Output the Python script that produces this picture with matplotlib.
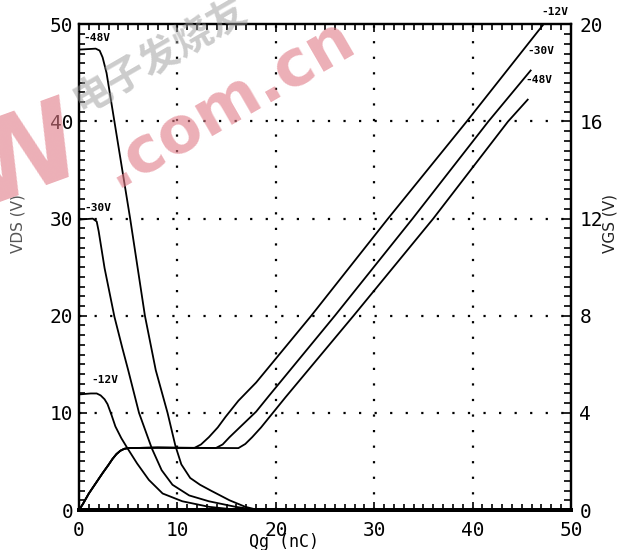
import matplotlib.pyplot as plt
from matplotlib.ticker import MultipleLocator

# VDS curves (left axis), one per supply voltage
qg_vds_12 = [0, 1.2, 1.8, 2.2, 2.6, 2.9, 3.3, 3.7, 4.3, 4.9, 5.9, 7.1, 8.5, 10.5, 13.2, 15.6, 16.5, 50]
vds_12 = [11.9, 12.0, 12.0, 11.8, 11.4, 10.9, 9.8, 8.6, 7.4, 6.4, 4.8, 3.1, 1.7, 0.9, 0.33, 0.07, 0.0, 0.0]

qg_vds_30 = [0, 1.4, 1.8, 2.0, 2.6, 3.6, 4.4, 5.0, 6.1, 7.4, 8.4, 9.5, 11.2, 13.2, 15.9, 17.6, 18.5, 50]
vds_30 = [29.9, 30.0, 29.7, 28.7, 24.9, 19.9, 16.7, 14.4, 10.0, 6.35, 4.1, 2.6, 1.5, 0.9, 0.33, 0.08, 0.0, 0.0]

qg_vds_48 = [0, 1.7, 2.1, 2.4, 2.8, 3.6, 5.2, 6.7, 7.8, 9.0, 9.8, 10.4, 11.3, 12.3, 13.4, 15.3, 16.9, 18.0, 50]
vds_48 = [47.4, 47.5, 47.3, 46.6, 45.0, 40.0, 30.0, 20.0, 14.4, 10.0, 6.6, 4.7, 3.3, 2.6, 2.0, 1.0, 0.33, 0.05, 0.0]

# VGS curves (right axis)
qg_vgs_12 = [0, 0.4, 1.0, 1.7, 2.4, 3.0, 3.4, 3.8, 4.2, 4.6, 5.0, 8.0, 11.7, 12.4, 13.2, 14.1, 14.9, 16.2, 18.0, 23.6, 31.4, 39.4, 47.2]
vgs_12 = [0, 0.25, 0.68, 1.1, 1.52, 1.86, 2.1, 2.3, 2.44, 2.52, 2.55, 2.57, 2.55, 2.7, 3.0, 3.4, 3.84, 4.5, 5.25, 8.0, 12.0, 16.0, 20.0]

qg_vgs_30 = [0, 0.4, 1.0, 1.7, 2.4, 3.0, 3.4, 3.8, 4.2, 4.6, 5.0, 8.0, 13.9, 14.6, 15.3, 16.2, 17.1, 18.0, 19.3, 26.0, 33.9, 41.6, 45.9]
vgs_30 = [0, 0.25, 0.68, 1.1, 1.52, 1.86, 2.1, 2.3, 2.44, 2.52, 2.55, 2.57, 2.55, 2.7, 3.0, 3.35, 3.7, 4.05, 4.7, 8.0, 12.0, 16.0, 18.1]

qg_vgs_48 = [0, 0.4, 1.0, 1.7, 2.4, 3.0, 3.4, 3.8, 4.2, 4.6, 5.0, 8.0, 16.2, 16.9, 17.6, 18.5, 19.6, 21.0, 27.9, 36.0, 43.6, 45.6]
vgs_48 = [0, 0.25, 0.68, 1.1, 1.52, 1.86, 2.1, 2.3, 2.44, 2.52, 2.55, 2.57, 2.55, 2.72, 3.0, 3.4, 3.95, 4.65, 8.0, 12.0, 16.0, 16.9]

mono = "DejaVu Sans Mono"

fig = plt.figure(figsize=(6.22, 5.5), dpi=100)
ax = fig.add_axes([0.127, 0.0727, 0.791, 0.883])
ax2 = ax.twinx()

for x, y in [(qg_vds_12, vds_12), (qg_vds_30, vds_30), (qg_vds_48, vds_48)]:
    ax.plot(x, y, color="black", lw=1.3)
for x, y in [(qg_vgs_12, vgs_12), (qg_vgs_30, vgs_30), (qg_vgs_48, vgs_48)]:
    ax2.plot(x, y, color="black", lw=1.3)

ax.set_xlim(0, 50)
ax.set_ylim(0, 50)
ax2.set_ylim(0, 20)

# dotted grid
for v in [10, 20, 30, 40]:
    ax.axvline(v, color="black", lw=1.6, dashes=(1, 6), zorder=0)
    ax.axhline(v, color="black", lw=1.6, dashes=(1, 6), zorder=0)

ax.xaxis.set_major_locator(MultipleLocator(10))
ax.xaxis.set_minor_locator(MultipleLocator(1))
ax.yaxis.set_major_locator(MultipleLocator(10))
ax.yaxis.set_minor_locator(MultipleLocator(1))
ax2.yaxis.set_major_locator(MultipleLocator(4))
ax2.yaxis.set_minor_locator(MultipleLocator(0.4))

ax.tick_params(axis="x", which="both", direction="in", top=True, labelsize=14, pad=8)
ax.tick_params(axis="y", which="both", direction="in", labelsize=14, pad=4)
ax.tick_params(which="minor", length=4, width=1.2)
ax.tick_params(which="major", length=6, width=1.2)
ax2.tick_params(which="both", direction="in", labelsize=14, pad=6)
ax2.tick_params(which="minor", length=5, width=1.2)
ax2.tick_params(which="major", length=6, width=1.2)

for lab in ax.get_xticklabels() + ax.get_yticklabels() + ax2.get_yticklabels():
    lab.set_fontfamily(mono)

for s in ["left", "right", "top"]:
    ax.spines[s].set_linewidth(1.6)
    ax2.spines[s].set_linewidth(1.6)
ax.spines["bottom"].set_linewidth(2.8)
ax2.spines["bottom"].set_linewidth(2.8)

# curve labels
ax.text(0.4, 48.6, "-48V", fontfamily=mono, fontweight="bold", fontsize=8, va="center")
ax.text(0.5, 31.1, "-30V", fontfamily=mono, fontweight="bold", fontsize=8, va="center")
ax.text(1.3, 13.4, "-12V", fontfamily=mono, fontweight="bold", fontsize=8, va="center")
ax2.text(47.0, 20.5, "-12V", fontfamily=mono, fontweight="bold", fontsize=8, va="center", clip_on=False)
ax2.text(45.6, 18.9, "-30V", fontfamily=mono, fontweight="bold", fontsize=8, va="center")
ax2.text(45.4, 17.7, "-48V", fontfamily=mono, fontweight="bold", fontsize=8, va="center")

# axis titles
fig.text(18 / 622, 1 - 224 / 550, "VDS (V)", rotation=90, ha="center", va="center",
         fontsize=11, color="#555555")
fig.text(610 / 622, 1 - 223 / 550, "VGS (V)", rotation=90, ha="center", va="center",
         fontsize=11, color="#222222")
fig.text(284 / 622, 1 - 533 / 550, "Qg (nC)", ha="center", va="top", fontsize=12,
         fontfamily=mono)

# watermark
fig.text(228 / 622, 1 - 103 / 550, ".com.cn", rotation=30, ha="center", va="center",
         fontsize=46, fontweight="bold", color="#e07a86", alpha=0.6)
fig.text(160 / 622, 1 - 55 / 550, "电子发烧友", rotation=30, ha="center", va="center",
         fontsize=28, fontweight="bold", color="#999999", alpha=0.5,
         fontfamily=["Noto Sans CJK SC", "DejaVu Sans"])
fig.text(22 / 622, 1 - 160 / 550, "W", rotation=20, ha="center", va="center",
         fontsize=80, fontweight="bold", color="#e07a86", alpha=0.6)

fig.savefig("out.png", dpi=100)
